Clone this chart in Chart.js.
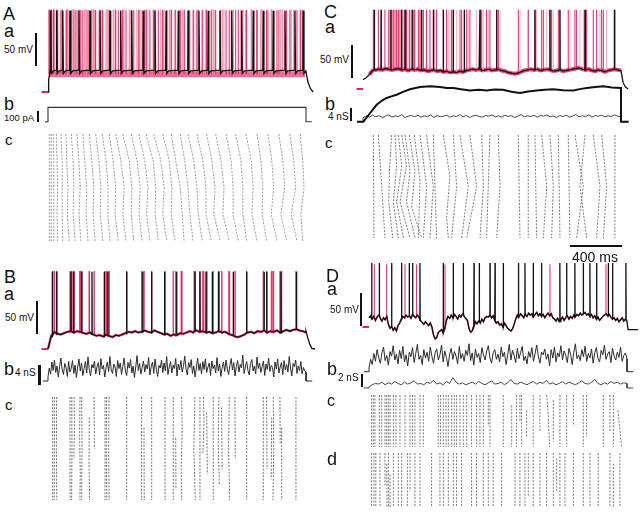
<!DOCTYPE html>
<html lang="en">
<head>
<meta charset="UTF-8">
<title>Spike trains: current step vs conductance injection</title>
<script src="https://cdn.jsdelivr.net/npm/chart.js"></script>
<style>
  * { box-sizing: border-box; }
  body { margin:0; background:#fff; }
  #fig { position:relative; width:640px; height:512px; overflow:hidden; background:#fff;
         font-family:'Liberation Sans', Arial, sans-serif; color:#111; }
  #fig canvas { position:absolute; }
  .lab { position:absolute; white-space:nowrap; }
  .bar { position:absolute; background:#111; }
</style>
</head>
<body>
<div id="fig"></div>
<script>
// times in ms from step onset, membrane potential in mV, conductance in nS, current in pA

// ---- A : current step ----
const aSpikes = [21, 67, 114, 171, 240, 326, 403, 481, 563, 649, 739, 829, 915, 1010, 1087,
                 1170, 1242, 1333, 1424, 1501, 1591, 1669, 1746, 1837, 1914, 1979];
const A_PEAK = 43, A_PRE = -47, A_MID = -48, A_TROUGH = -52, A_BAND = -53;
const aHead = [[0, -80], [5, -62], [12, -53]];
const aTail = [[2000, -49], [2015, -65], [2035, -75], [2055, -80]];
const aStep = [[-25, 0], [0, 0], [0, 130], [2000, 130], [2000, 0], [2045, 0]];
const aRasterRows = [0, 10, 20, 30, 40];
const aRaster = [
  [10,10,10,10,10], [25,25,25,25,25], [40,45,45,45,45], [65,70,75,70,75],
  [100,110,110,110,115], [140,145,155,150,165], [180,195,200,195,210], [225,240,250,240,255],
  [270,285,300,295,310], [320,340,355,350,365], [370,395,410,405,425], [420,450,465,465,480],
  [475,505,525,520,545], [525,565,590,580,605], [580,630,650,645,665], [645,690,715,705,730],
  [705,750,775,765,790], [760,815,835,830,855], [820,875,900,890,920], [890,940,960,955,985],
  [955,990,1025,1040,1055], [1025,1060,1085,1100,1125], [1085,1130,1155,1165,1195],
  [1155,1200,1225,1225,1265], [1230,1270,1295,1285,1335], [1300,1340,1365,1355,1405],
  [1380,1420,1435,1435,1475], [1455,1495,1510,1510,1540], [1535,1575,1590,1580,1620],
  [1620,1650,1665,1660,1695], [1705,1735,1750,1730,1775], [1790,1820,1835,1805,1850],
  [1875,1905,1920,1885,1930], [1955,1975,1985,1960,1975]
];

// ---- B : conductance injection ----
const bSpikes = [33, 67, 178, 196, 261, 341, 436, 463, 610, 734, 804, 904, 997, 1139, 1178,
                 1225, 1273, 1320, 1436, 1540, 1676, 1695, 1806, 1927];
const B_PEAK = 37;
const bBase = [ // every 25 ms
  -80,-60,-54,-57,-58,-56,-54,-53,-55,-53, -54,-56,-57,-55,-58,-60,-59,-61,-58,-60,
  -62,-59,-60,-58,-56,-54,-55,-53,-55,-54, -52,-54,-55,-52,-54,-56,-58,-57,-60,-58,
  -59,-56,-57,-55,-53,-55,-52,-54,-53,-55, -54,-56,-55,-53,-55,-54,-57,-59,-61,-62,
  -60,-58,-55,-54,-56,-53,-54,-52,-55,-53, -54,-52,-55,-53,-51,-53,-51,-50,-52,-53, -55
];
const bTail = [[2000, -53], [2012, -62], [2028, -72], [2045, -79], [2070, -80]];
const bG = [ // every 10 ms
  0.9,2.6,1.4,3.8,2.1,4.2,1.7,3.0,0.8,2.9,4.6,2.2,1.3,3.5,2.7,0.9,3.9,1.8,2.6,4.1,
  1.5,3.2,0.7,2.8,4.4,2.0,3.6,1.1,2.5,3.9,1.6,4.8,2.3,1.0,3.3,2.6,4.0,1.4,2.9,3.7,
  1.2,4.5,2.4,3.1,0.8,2.7,3.8,1.9,4.9,2.2,1.5,3.4,2.8,0.9,4.1,2.5,3.6,1.3,2.9,4.6,
  2.0,1.1,3.7,2.6,4.3,1.6,3.0,0.7,2.8,5.1,2.1,3.5,1.4,2.7,4.0,1.8,3.3,2.4,4.7,1.2,
  2.9,3.8,1.5,4.4,2.3,0.9,3.1,2.6,4.2,1.7,3.6,2.0,4.9,1.3,2.8,3.9,1.6,3.2,2.5,4.5,
  1.0,3.4,2.2,4.1,1.8,2.9,5.0,2.4,1.2,3.7,2.7,4.3,1.5,3.0,0.8,2.6,4.6,2.1,3.5,1.4,
  3.9,2.3,4.4,1.7,2.8,3.6,1.1,4.0,2.5,3.2,1.6,4.7,2.0,3.4,0.9,2.7,3.8,1.9,4.2,2.4,
  1.3,3.1,4.5,2.2,3.7,1.0,2.9,4.1,1.8,3.3,2.6,5.2,1.5,2.8,3.9,2.1,1.2,3.5,4.3,2.0,
  3.0,1.4,4.8,2.5,3.6,1.7,2.9,4.0,1.1,3.4,2.3,4.6,1.9,3.1,2.7,0.8,3.8,2.4,4.4,1.6,
  2.8,3.7,1.3,4.1,2.2,3.3,1.8,4.9,2.6,1.0,3.5,2.9,4.2,1.5,3.0,2.1,3.9,1.4,2.7,2.0, 1.8
];
const bRaster = [ // [trial row, ms]
  [[0,36],[40,36]], [[0,49],[20,50],[40,48]], [[0,67],[20,65],[40,68]], [[0,171],[40,171]],
  [[0,184],[20,186],[40,183]], [[0,202],[12,205],[24,200]], [[0,248],[15,245],[30,250],[40,247]],
  [[0,261],[20,264],[40,260]], [[8,320],[25,318],[40,322]], [[0,357],[20,360]], [[0,442],[40,442]],
  [[0,455],[20,452],[40,456]], [[0,473],[20,470],[40,474]], [[0,610],[40,610]], [[0,726],[40,726]],
  [[12,744],[40,746]], [[0,804],[40,804]], [[0,907],[40,907]], [[0,971],[40,971]], [[16,990],[36,992]],
  [[0,1036],[14,1040],[28,1032],[40,1038]], [[0,1139],[20,1130],[40,1142]], [[0,1178],[40,1178]],
  [[0,1204],[10,1210],[22,1200]], [[6,1230],[30,1235]], [[0,1281],[40,1281]],
  [[0,1325],[18,1320],[34,1328]], [[4,1346],[28,1350]], [[0,1405],[20,1400],[40,1408]],
  [[0,1449],[24,1452]], [[0,1540],[40,1540]], [[0,1669],[40,1669]], [[0,1695],[28,1698]],
  [[8,1734],[32,1730]], [[0,1746],[20,1750],[40,1744]], [[0,1798],[18,1800]],
  [[12,1811],[40,1812]], [[0,1922],[40,1922]]
];

// ---- C : conductance (excitatory tonic) ----
const cSpikes = [88, 140, 215, 300, 326, 385, 455, 545, 622, 700, 785, 907, 1036, 1333, 1449, 1527, 1721, 1948];
const C_PEAK = 40;
const cBase = [
  -66,-63,-58,-52,-51,-50,-51,-49,-50,-51, -50,-49,-51,-50,-52,-50,-51,-50,-52,-51,
  -53,-52,-51,-53,-52,-54,-53,-55,-54,-55, -53,-54,-52,-51,-50,-51,-50,-52,-51,-50,
  -52,-51,-50,-52,-53,-55,-56,-57,-56,-54, -52,-51,-50,-51,-50,-52,-51,-50,-51,-53,
  -52,-51,-53,-52,-51,-50,-49,-48,-50,-51, -50,-52,-53,-51,-52,-54,-52,-51,-50,-51, -52
];
const cTail = [[2000, -52], [2017, -71], [2035, -77], [2056, -80]];
const cGslow = [[-46,0],[3,0],[54,2.6],[106,5.2],[150,6.6],[184,7.3],[220,7.8],[261,8.3],[310,9.2],
  [364,10.0],[442,10.7],[519,10.9],[597,10.7],[650,10.4],[700,10.4],[760,10.0],[829,9.6],[900,9.8],
  [958,9.6],[1020,9.9],[1085,9.8],[1150,9.2],[1217,8.8],[1280,9.3],[1346,9.6],[1410,9.8],[1475,10.0],
  [1550,9.7],[1630,9.6],[1690,10.1],[1734,10.4],[1800,10.7],[1862,10.9],[1930,10.5],[2000,10.4],
  [2000,0],[2060,0]];
const cGfast = [ // every 25 ms
  1.2,1.8,1.4,2.0,1.5,1.9,1.3,1.7,2.1,1.4,1.8,1.6,2.2,1.3,1.7,1.9,1.5,2.0,1.4,1.8,
  1.6,2.1,1.3,1.9,1.5,1.7,2.0,1.4,1.8,1.6,2.2,1.5,1.9,1.3,1.7,2.0,1.6,1.4,1.9,1.7,
  2.1,1.5,1.8,1.4,2.0,1.6,1.9,1.3,1.7,2.2,1.5,1.8,1.6,2.0,1.4,1.9,1.7,2.1,1.5,1.8,
  1.3,1.9,1.6,2.0,1.4,1.7,2.2,1.5,1.8,1.6,2.1,1.4,1.9,1.7,2.0,1.5,1.8,1.6,2.1,1.7,1.5
];
const cRaster = [
  [[0,80],[40,85]], [[0,119],[20,145],[40,170]], [[0,222],[14,205],[26,200],[40,230]],
  [[0,248],[12,261],[26,235],[40,274]], [[0,274],[12,300],[26,261],[40,313]],
  [[0,300],[12,338],[26,287],[40,364]], [[0,326],[14,364],[26,338],[40,403]],
  [[0,359],[14,403],[28,377],[40,455]], [[0,398],[18,442],[40,429]], [[0,442],[20,493],[40,468]],
  [[0,493],[20,545],[40,519]], [[0,545],[20,558],[40,571]], [[0,622],[16,674],[32,648],[40,661]],
  [[0,700],[20,726],[40,687]], [[0,752],[20,816],[40,765]], [[0,829],[20,881],[40,804]],
  [[0,920],[20,933],[40,907]], [[0,984],[20,971],[40,958]], [[0,1049],[20,1062],[40,1036]],
  [[0,1204],[40,1217]], [[0,1281],[40,1281]], [[0,1333],[40,1346]], [[0,1385],[20,1424],[40,1398]],
  [[0,1450],[20,1475],[40,1462]], [[0,1514],[40,1527]], [[0,1591],[40,1604]],
  [[0,1643],[20,1708],[40,1656]], [[0,1721],[20,1682],[40,1734]], [[0,1785],[20,1837],[40,1811]],
  [[0,1850],[20,1889],[40,1863]], [[0,1953],[40,1953]]
];

// ---- D : two conductances ----
const dSpikes = [21, 80, 176, 253, 312, 339, 395, 576, 653, 731, 814, 855, 938, 977, 1041, 1157,
                 1209, 1273, 1338, 1480, 1532, 1596, 1661, 1713, 1765, 1855, 1889, 1992];
const dRedSpikes = [41, 137, 279, 369, 589, 1403, 1837];
const D_PEAK = 17;
const dBase = [ // every 12.5 ms
  -66,-63,-68,-64,-70,-65,-62,-67,-71,-66,-69,-64,-76,-82,-79,-85,
  -81,-86,-78,-74,-68,-64,-66,-62,-65,-63,-67,-61,-64,-66,-62,-65,
  -70,-73,-76,-72,-75,-78,-74,-80,-92,-98,-96,-88,-86,-84,-89,-82,
  -70,-64,-67,-62,-66,-61,-64,-68,-62,-65,-60,-64,-67,-70,-82,-88,
  -86,-78,-72,-75,-71,-74,-68,-72,-66,-64,-65,-62,-66,-63,-70,-74,
  -72,-77,-75,-80,-74,-78,-82,-84,-86,-83,-76,-68,-62,-65,-60,-63,
  -66,-61,-64,-59,-62,-60,-65,-61,-58,-63,-60,-64,-61,-66,-62,-59,
  -63,-60,-66,-68,-71,-67,-72,-69,-65,-70,-66,-63,-68,-64,-67,-62,
  -65,-61,-63,-59,-62,-60,-58,-62,-60,-64,-61,-66,-63,-68,-65,-70,
  -67,-64,-62,-60,-63,-61,-65,-68,-66,-70,-67,-72,-69,-66,-71,-68, -72
];
const dTail = [[2000, -72], [2008, -84], [2085, -84]];
const dGexc = [ // every 12.5 ms
  0.6,1.9,1.1,2.8,1.6,3.4,2.2,1.3,2.9,3.8,1.7,2.5,1.0,3.1,2.4,4.0,1.8,2.7,1.2,3.3,
  2.0,3.9,1.5,2.6,0.9,3.0,2.3,3.7,1.4,2.8,4.2,1.9,2.5,1.1,3.4,2.1,3.0,1.6,3.8,2.4,
  1.3,2.9,3.5,1.8,2.6,4.1,1.5,3.2,2.2,0.8,2.7,3.6,1.9,3.1,2.4,1.2,3.9,2.0,2.8,1.6,
  3.3,2.5,4.3,1.7,2.9,1.0,3.5,2.2,2.8,1.4,3.7,2.6,1.8,3.2,4.0,2.1,1.3,2.9,3.4,1.9,
  2.7,1.5,3.8,2.3,3.0,1.1,2.6,4.2,1.8,3.3,2.5,1.4,3.6,2.0,2.9,3.9,1.7,2.4,1.2,3.1,
  2.2,3.7,1.6,2.8,4.1,2.4,1.3,3.0,2.6,3.5,1.9,2.7,0.9,3.4,2.1,3.8,1.5,2.9,2.3,4.0,
  1.8,3.2,2.5,1.4,3.6,2.7,1.1,3.0,4.3,2.0,2.6,1.7,3.4,2.3,3.9,1.6,2.8,2.1,3.5,1.3,
  2.9,3.7,2.0,1.5,3.3,2.6,4.1,1.9,2.7,3.1,1.4,3.6,2.4,1.8,3.0,2.2,3.8,1.6,2.5,2.9, 2.0
];
const dGinh = [ // every 25 ms
  0.2,0.5,0.7,0.6,0.9,0.5,0.8,0.6,1.0,0.7,0.5,0.9,0.6,0.8,1.1,0.6,0.7,0.5,0.9,0.7,
  1.2,0.6,0.8,0.5,1.0,0.7,1.6,0.9,0.6,0.8,0.5,0.7,0.9,0.6,1.0,0.7,0.5,0.8,1.1,0.6,
  0.7,0.9,0.5,0.8,1.3,0.7,0.6,0.9,0.7,0.5,0.8,1.0,0.6,0.9,0.7,1.2,0.6,0.8,0.5,0.7,
  1.0,0.6,0.9,0.7,0.5,0.8,1.1,0.7,0.6,0.9,1.3,0.7,0.5,0.8,0.6,1.0,0.7,0.9,0.6,0.8,0.7
];
const dRasterC = [
  [[0,20],[20,20]], [[0,33],[20,33]], [[0,46],[20,46]], [[0,80],[20,80]], [[0,98],[20,98]],
  [[0,124],[20,124]], [[0,137],[20,137]], [[0,150],[20,150]], [[0,163],[20,163]], [[0,189],[20,189]],
  [[0,209],[20,209]], [[0,240],[20,240]], [[0,279],[20,279]], [[0,318],[20,318]], [[0,338],[20,338]],
  [[0,356],[20,356]], [[0,395],[20,395]], [[0,421],[20,421]], [[0,537],[20,537]], [[0,555],[20,555]],
  [[0,576],[20,576]], [[0,597],[20,597]], [[0,615],[20,615]], [[0,641],[20,641]], [[0,661],[20,661]],
  [[0,679],[20,679]], [[0,705],[20,705]], [[0,731],[20,731]], [[0,757],[20,757]], [[0,795],[20,795]],
  [[0,834],[20,834]], [[0,860],[20,860]], [[0,886],[20,886]], [[0,925],[12,925]], [[0,938],[20,938]],
  [[0,1041],[20,1041]], [[4,1106],[20,1106]], [[0,1144],[20,1144]], [[0,1170],[10,1170]],
  [[0,1183],[20,1183]], [[6,1222],[16,1222]], [[0,1273],[20,1273]], [[0,1325],[14,1325]],
  [[0,1377],[8,1390],[20,1400]], [[2,1429],[18,1429]], [[0,1480],[20,1480]], [[0,1532],[20,1532]],
  [[0,1584],[12,1584]], [[0,1661],[20,1661]], [[0,1687],[16,1687]], [[0,1816],[20,1816]],
  [[0,1868],[14,1868]], [[0,1894],[20,1894]], [[6,1930],[20,1958]]
];
const dRasterD = [
  [[0,20],[20,20]], [[0,38],[20,38]], [[0,53],[20,53]], [[0,85],[20,85]], [[0,124],[12,124]],
  [[4,137],[20,140]], [[0,150],[20,150]], [[8,163],[20,163]], [[0,189],[20,189]], [[0,227],[20,227]],
  [[0,253],[20,253]], [[0,297],[20,297]], [[0,318],[14,318]], [[0,356],[20,356]], [[0,395],[20,395]],
  [[0,485],[20,485]], [[0,550],[20,550]], [[0,576],[20,576]], [[0,615],[20,615]], [[0,654],[20,654]],
  [[0,679],[20,679]], [[0,718],[20,718]], [[0,795],[20,795]], [[0,834],[20,834]], [[0,886],[20,886]],
  [[0,925],[20,925]], [[0,963],[20,963]], [[0,1028],[20,1028]], [[0,1132],[20,1132]],
  [[0,1170],[20,1170]], [[0,1209],[20,1209]], [[0,1235],[16,1235]], [[0,1273],[20,1273]],
  [[0,1325],[20,1325]], [[0,1377],[20,1377]], [[0,1429],[20,1429]], [[2,1455],[14,1455]],
  [[0,1480],[20,1480]], [[0,1519],[20,1519]], [[0,1584],[20,1584]], [[0,1661],[20,1661]],
  [[0,1713],[20,1713]], [[0,1777],[20,1777]], [[0,1868],[20,1868]], [[4,1894],[20,1894]],
  [[0,1945],[20,1945]]
];

// ---------------- drawing ----------------
const fig = document.getElementById('fig');
const MS_PER_PX = 2000 / 258;
const MV_PER_PX = 50 / 33;
const RED = '#e2245a', PINK = '#ee6f95', LIGHT = '#f6a9c1', HALO = '#e8467a';

function xr(box, x0) { return [(box[0] - x0) * MS_PER_PX, (box[0] + box[2] - x0) * MS_PER_PX]; }
function vr(box, yRest) { return [-80 + (yRest - box[1] - box[3]) * MV_PER_PX, -80 + (yRest - box[1]) * MV_PER_PX]; }
function lin(box, yZero, perPx) { return [(yZero - box[1] - box[3]) * perPx, (yZero - box[1]) * perPx]; }
function rows(box, yTop, yBot, n) { const k = n / (yBot - yTop); return [(box[1] - yTop) * k, (box[1] + box[3] - yTop) * k]; }

function chartAt(box, x, y, datasets, reverse) {
  const c = document.createElement('canvas');
  c.width = box[2]; c.height = box[3];
  c.style.left = box[0] + 'px'; c.style.top = box[1] + 'px';
  c.style.width = box[2] + 'px'; c.style.height = box[3] + 'px';
  fig.appendChild(c);
  new Chart(c, {
    type: 'scatter',
    data: { datasets },
    options: {
      responsive: false, animation: false, events: [],
      layout: { padding: 0 },
      plugins: { legend: { display: false }, tooltip: { enabled: false } },
      scales: {
        x: { type: 'linear', display: false, min: x[0], max: x[1] },
        y: { type: 'linear', display: false, min: y[0], max: y[1], reverse: !!reverse }
      }
    }
  });
}

function line(data, color, width, order, extra) {
  return Object.assign({ data, showLine: true, borderColor: color, backgroundColor: color, borderWidth: width,
    pointRadius: 0, pointHoverRadius: 0, tension: 0, spanGaps: false, fill: false, order }, extra || {});
}
const pairs = a => a.map(([x, y]) => ({ x, y }));
const sampled = (vals, dt) => vals.map((y, i) => ({ x: i * dt, y }));

function withSpikes(vals, dt, spikes, peak) {
  const pts = []; let s = 0;
  vals.forEach((v, i) => {
    const t = i * dt;
    while (s < spikes.length && spikes[s] <= t) {
      const b = vals[Math.min(vals.length - 1, Math.round(spikes[s] / dt))];
      pts.push({ x: spikes[s] - 1, y: b }, { x: spikes[s], y: peak }, { x: spikes[s] + 1.5, y: b });
      s++;
    }
    pts.push({ x: t, y: v });
  });
  return pts;
}
function spikeLines(times, lo, hi) {
  const pts = [];
  times.forEach(t => pts.push({ x: t, y: typeof lo === 'function' ? lo(t) : lo }, { x: t, y: hi }, { x: t, y: null }));
  return pts;
}
function rasterLines(cols) {
  const pts = [];
  cols.forEach(c => { c.forEach(([r, t]) => pts.push({ x: t, y: r })); pts.push({ x: c[0][1], y: null }); });
  return pts;
}
const rasterTimes = (cols, pick) => cols.flatMap(c => c.filter((p, i) => pick(i, c.length)).map(p => p[1]));
const baseAt = (vals, dt) => t => vals[Math.max(0, Math.min(vals.length - 1, Math.round(t / dt)))] - 2;
const gTrace = (vals, dt) => [{ x: -40, y: 0 }, { x: 0, y: 0 }, ...sampled(vals, dt), { x: 2000, y: 0 }, { x: 2048, y: 0 }];
const preStep = [{ x: -50, y: -80 }, { x: 0, y: -80 }];
const dash = { borderDash: [2, 1.4] };

// ---- A ----
const aCols = aRaster.map(c => c.map((t, i) => [aRasterRows[i], t]));
const aBlack = pairs(aHead);
aSpikes.forEach(t => aBlack.push({ x: t - 3, y: A_PRE }, { x: t, y: A_PEAK }, { x: t + 5, y: A_TROUGH }, { x: t + 20, y: A_MID }));
aBlack.push(...pairs(aTail));
let box = [38, 4, 280, 98];
chartAt(box, xr(box, 48), vr(box, 92), [
  line([{ x: 8, y: A_BAND }, { x: 1995, y: A_BAND }], PINK, 6, 6),
  line(spikeLines(rasterTimes(aCols, i => i === 2), A_BAND, A_PEAK + 2), LIGHT, 1, 5),
  line(spikeLines(rasterTimes(aCols, i => i === 1 || i === 3), A_BAND, A_PEAK + 2), PINK, 1, 4),
  line(spikeLines(rasterTimes(aCols, i => i === 0 || i === 4), A_BAND, A_PEAK + 1), RED, 1, 3),
  line(preStep, RED, 2, 2),
  line(aBlack, '#111', 1.3, 1)
]);
box = [38, 100, 280, 26];
chartAt(box, xr(box, 48), lin(box, 121.7, 1 / 0.11), [line(pairs(aStep), '#333', 1.1, 1)]);
box = [38, 128, 280, 118];
chartAt(box, xr(box, 48), rows(box, 134, 241, 40), [line(rasterLines(aCols), '#9a9a9a', 1, 1, dash)], true);

// ---- B ----
box = [38, 262, 280, 94];
chartAt(box, xr(box, 48), vr(box, 349), [
  line(sampled(bBase, 25), HALO, 2.5, 6),
  line(spikeLines(rasterTimes(bRaster, i => i % 2 === 1), baseAt(bBase, 25), B_PEAK + 1), PINK, 1, 5),
  line(spikeLines(rasterTimes(bRaster, i => i % 2 === 0), baseAt(bBase, 25), B_PEAK + 1), RED, 1, 4),
  line(preStep, RED, 2, 2),
  line([...withSpikes(bBase, 25, bSpikes, B_PEAK), ...pairs(bTail)], '#111', 1.3, 1)
]);
box = [38, 350, 280, 40];
chartAt(box, xr(box, 48), lin(box, 381, 0.2), [line(gTrace(bG, 10), '#2b2b2b', 1, 1)]);
box = [38, 392, 280, 114];
chartAt(box, xr(box, 48), rows(box, 397, 500, 40), [line(rasterLines(bRaster), '#707070', 1, 1, dash)], true);

// ---- C ----
box = [354, 2, 286, 96];
chartAt(box, xr(box, 363), vr(box, 89), [
  line(sampled(cBase, 25).slice(2), HALO, 4, 6),
  line(spikeLines(rasterTimes(cRaster, i => i % 2 === 1), baseAt(cBase, 25), C_PEAK), LIGHT, 1, 5),
  line(spikeLines(rasterTimes(cRaster, i => i % 2 === 0), baseAt(cBase, 25), C_PEAK), RED, 1, 4),
  line(preStep, RED, 2, 2),
  line([...withSpikes(cBase, 25, cSpikes, C_PEAK), ...pairs(cTail)], '#111', 1.3, 1)
]);
box = [354, 80, 286, 46];
chartAt(box, xr(box, 363), lin(box, 121.7, 4 / 13), [
  line(pairs(cGslow), '#111', 2, 1),
  line(gTrace(cGfast, 25), '#444', 1, 2)
]);
box = [354, 130, 286, 112];
chartAt(box, xr(box, 363), rows(box, 135, 238, 40), [line(rasterLines(cRaster), '#7a7a7a', 1, 1, dash)], true);

// ---- D ----
box = [362, 254, 278, 96];
chartAt(box, xr(box, 369), vr(box, 327), [
  line(sampled(dBase, 12.5), HALO, 1.5, 6),
  line(spikeLines(dRedSpikes, baseAt(dBase, 12.5), D_PEAK - 2), RED, 1, 4),
  line(preStep, RED, 2, 2),
  line([...withSpikes(dBase, 12.5, dSpikes, D_PEAK), ...pairs(dTail)], '#111', 1.3, 1)
]);
box = [362, 340, 278, 36];
chartAt(box, xr(box, 369), lin(box, 371.7, 2 / 13), [line(gTrace(dGexc, 12.5), '#2b2b2b', 1, 1)]);
box = [362, 374, 278, 18];
chartAt(box, xr(box, 369), lin(box, 388, 2 / 13), [line(gTrace(dGinh, 25), '#444', 1, 1)]);
box = [362, 390, 278, 62];
chartAt(box, xr(box, 369), rows(box, 395, 447, 20), [line(rasterLines(dRasterC), '#7a7a7a', 1, 1, dash)], true);
box = [362, 448, 278, 62];
chartAt(box, xr(box, 369), rows(box, 453, 507, 20), [line(rasterLines(dRasterD), '#7a7a7a', 1, 1, dash)], true);

// ---- labels and scale bars ----
const labels = [
  ['A', 3, 20, 18], ['a', 4, 37, 18], ['50 mV', 4, 53, 10], ['b', 4, 110, 18], ['100 pA', 4, 121, 9.5], ['c', 5, 145, 15],
  ['B', 4, 283, 18], ['a', 4, 300, 18], ['50 mV', 5, 321, 10], ['b', 4, 375, 18], ['4 nS', 15, 376, 10], ['c', 5, 410, 15],
  ['C', 324, 18, 18], ['a', 325, 33, 18], ['50 mV', 320, 63, 10], ['b', 325, 110, 18], ['4 nS', 328, 120, 10], ['c', 325, 148, 15],
  ['400 ms', 572, 262, 14],
  ['D', 326, 282, 18], ['a', 327, 295, 18], ['50 mV', 330, 313, 10], ['b', 327, 375, 18], ['2 nS', 338, 381, 10],
  ['c', 327, 407, 16], ['d', 327, 465, 18]
];
labels.forEach(([t, x, base, fs]) => {
  const d = document.createElement('div');
  d.className = 'lab'; d.textContent = t;
  d.style.cssText = `left:${x}px;top:${base - 0.8465 * fs}px;font-size:${fs}px;line-height:${fs}px`;
  fig.appendChild(d);
});
const bars = [
  [35, 33, 2, 50 / MV_PER_PX], [37, 111, 2, 100 * 0.11], [36, 301, 2, 50 / MV_PER_PX], [38, 365, 2.5, 4 / 0.2],
  [351, 45, 2, 50 / MV_PER_PX], [350, 108, 2, 13], [360, 293, 2, 50 / MV_PER_PX], [361, 374, 2, 13],
  [570, 245, 400 / MS_PER_PX, 2]
];
bars.forEach(([x, y, w, h]) => {
  const d = document.createElement('div');
  d.className = 'bar';
  d.style.cssText = `left:${x}px;top:${y}px;width:${w}px;height:${h}px`;
  fig.appendChild(d);
});
</script>
</body>
</html>
